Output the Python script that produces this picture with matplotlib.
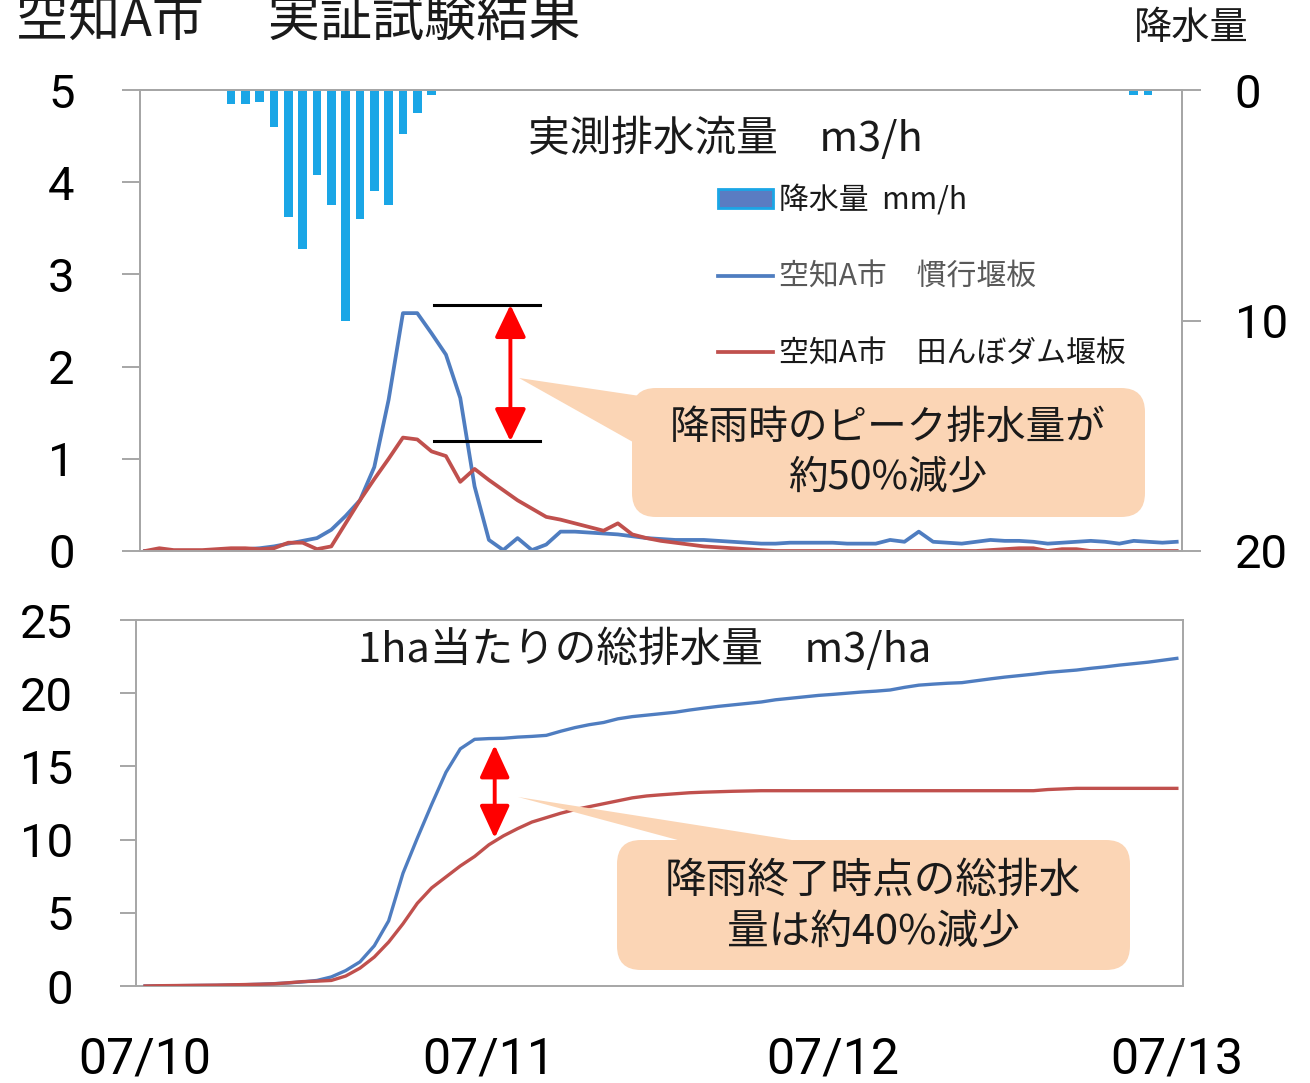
import matplotlib
matplotlib.use("Agg")
import matplotlib.pyplot as plt
import numpy as np
from matplotlib.patches import FancyBboxPatch, Polygon, Patch
from matplotlib.lines import Line2D
from matplotlib.transforms import Affine2D

# ---------------- data (hourly, 07/10 00:00 -> 07/13 00:00) ----------------
hours = np.arange(73)

flow_conventional = [0.00, 0.00, 0.00, 0.00, 0.00, 0.00, 0.01, 0.02, 0.03, 0.05,
                     0.08, 0.11, 0.14, 0.23, 0.38, 0.55, 0.91, 1.64, 2.58, 2.58,
                     2.36, 2.13, 1.66, 0.70, 0.12, 0.01, 0.14, 0.01, 0.07, 0.21,
                     0.21, 0.20, 0.19, 0.18, 0.16, 0.14, 0.13, 0.12, 0.12, 0.12,
                     0.11, 0.10, 0.09, 0.08, 0.08, 0.09, 0.09, 0.09, 0.09, 0.08,
                     0.08, 0.08, 0.12, 0.10, 0.21, 0.10, 0.09, 0.08, 0.10, 0.12,
                     0.11, 0.11, 0.10, 0.08, 0.09, 0.10, 0.11, 0.10, 0.08, 0.11,
                     0.10, 0.09, 0.10]

flow_paddy_dam = [0.00, 0.03, 0.01, 0.01, 0.01, 0.02, 0.03, 0.03, 0.02, 0.03,
                  0.09, 0.09, 0.02, 0.05, 0.30, 0.55, 0.78, 1.00, 1.23, 1.21,
                  1.08, 1.03, 0.75, 0.89, 0.77, 0.66, 0.55, 0.46, 0.37, 0.34,
                  0.30, 0.26, 0.22, 0.30, 0.18, 0.14, 0.11, 0.09, 0.07, 0.05,
                  0.04, 0.03, 0.02, 0.01, 0.00, 0.00, 0.00, 0.00, 0.00, 0.00,
                  0.00, 0.00, 0.00, 0.00, 0.00, 0.00, 0.00, 0.00, 0.00, 0.01,
                  0.02, 0.03, 0.03, 0.00, 0.02, 0.02, 0.00, 0.00, 0.00, 0.00,
                  0.00, 0.00, 0.00]

cum_conventional = [0.00, 0.01, 0.02, 0.03, 0.04, 0.05, 0.07, 0.09, 0.12, 0.16,
                    0.21, 0.28, 0.38, 0.62, 1.05, 1.65, 2.75, 4.45, 7.70, 10.10,
                    12.40, 14.60, 16.20, 16.85, 16.90, 16.92, 17.00, 17.05, 17.12, 17.40,
                    17.65, 17.85, 18.00, 18.25, 18.40, 18.50, 18.60, 18.70, 18.85, 18.98,
                    19.10, 19.20, 19.30, 19.40, 19.55, 19.65, 19.75, 19.85, 19.92, 20.00,
                    20.08, 20.14, 20.22, 20.40, 20.55, 20.62, 20.68, 20.72, 20.85, 20.98,
                    21.10, 21.20, 21.30, 21.42, 21.50, 21.58, 21.70, 21.80, 21.92, 22.02,
                    22.12, 22.25, 22.38]

cum_paddy_dam = [0.00, 0.02, 0.03, 0.04, 0.05, 0.06, 0.08, 0.10, 0.12, 0.15,
                 0.22, 0.30, 0.33, 0.38, 0.68, 1.22, 1.98, 3.00, 4.25, 5.65,
                 6.70, 7.45, 8.20, 8.85, 9.65, 10.25, 10.75, 11.20, 11.50, 11.80,
                 12.05, 12.25, 12.45, 12.65, 12.85, 12.98, 13.06, 13.13, 13.20, 13.24,
                 13.27, 13.30, 13.32, 13.34, 13.34, 13.34, 13.34, 13.34, 13.34, 13.34,
                 13.34, 13.34, 13.34, 13.34, 13.34, 13.34, 13.34, 13.34, 13.34, 13.34,
                 13.34, 13.34, 13.34, 13.42, 13.46, 13.50, 13.50, 13.50, 13.50, 13.50,
                 13.50, 13.50, 13.50]

rain_hours = [6, 7, 8, 9, 10, 11, 12, 13, 14, 15, 16, 17, 18, 19, 20, 69, 70]
rain_mm = [0.6, 0.6, 0.5, 1.6, 5.5, 6.9, 3.7, 5.0, 10.0, 5.6, 4.4, 5.0, 1.9, 1.0, 0.2,
           0.2, 0.2]

date_ticks = [0, 24, 48, 72]
date_labels = ["07/10", "07/11", "07/12", "07/13"]

label_rain = "降水量  mm/h"
label_conv = "空知A市　慣行堰板"
label_dam = "空知A市　田んぼダム堰板"

# ---------------- style ----------------
JP = ["Noto Sans CJK JP", "DejaVu Sans"]
NUM = ["Roboto", "DejaVu Sans"]
plt.rcParams["font.family"] = JP

BLUE = "#4F7DC0"
RED = "#C0504D"
RAIN = "#1AA6E6"
GRAY = "#A6A6A6"
PEACH = "#FBD5B5"
TXT = "#1A1A1A"

W, H = 1310, 1083
DPI = 100
fig = plt.figure(figsize=(W / DPI, H / DPI), dpi=DPI)
fig.patch.set_facecolor("white")

# pixel coordinates measured from the top-left corner
PX = Affine2D().scale(1, -1).translate(0, H)


def rect(l, t, r, b):
    return [l / W, 1 - b / H, (r - l) / W, (b - t) / H]


def style_spines(ax):
    for s in ax.spines.values():
        s.set_color(GRAY)
        s.set_linewidth(1.4)


# ---------------- upper panel: discharge rate + rainfall ----------------
ax1 = fig.add_axes(rect(140, 90, 1182, 551))
ax1.plot(hours, flow_conventional, color=BLUE, lw=2.7, solid_joinstyle="round", zorder=3)
ax1.plot(hours, flow_paddy_dam, color=RED, lw=2.7, solid_joinstyle="round", zorder=4)
ax1.set_xlim(-0.35, 72.37)
ax1.set_ylim(0, 5)
ax1.set_yticks([0, 1, 2, 3, 4, 5])
ax1.tick_params(axis="y", direction="out", length=13, width=1.4, color=GRAY,
                pad=34, labelsize=34)
ax1.tick_params(axis="x", length=0, labelbottom=False)
for t in ax1.get_yticklabels():
    t.set_fontfamily(NUM)
style_spines(ax1)

ax2 = ax1.twinx()
ax2.bar(rain_hours, rain_mm, width=0.6, color=RAIN, zorder=2)
ax2.set_ylim(20, 0)
ax2.set_yticks([0, 10, 20])
ax2.tick_params(axis="y", direction="out", length=14, width=1.4, color=GRAY,
                pad=24, labelsize=34)
for t in ax2.get_yticklabels():
    t.set_fontfamily(NUM)
style_spines(ax2)

# legend
handles = [Patch(facecolor="#5A7CC2", edgecolor=RAIN, linewidth=2),
           Line2D([], [], color=BLUE, lw=2.7),
           Line2D([], [], color=RED, lw=2.7)]
leg = ax2.legend(handles, [label_rain, label_conv, label_dam],
                 loc="upper left", bbox_to_anchor=(718 / W, 1 - 185 / H),
                 bbox_transform=fig.transFigure, frameon=False, fontsize=21.5,
                 handlelength=1.85, handleheight=0.6, handletextpad=0.2,
                 labelspacing=1.53, borderpad=0, borderaxespad=0)
for t, c in zip(leg.get_texts(), [TXT, "#595959", TXT]):
    t.set_color(c)

# peak marker lines and arrow
ax1.plot([20.2, 27.6], [2.67, 2.67], color="black", lw=2.2, zorder=5)
ax1.plot([20.2, 27.6], [1.19, 1.19], color="black", lw=2.2, zorder=5)
ax1.annotate("", xy=(25.5, 2.67), xytext=(25.5, 1.19),
             arrowprops=dict(arrowstyle="<|-|>,head_length=1.0,head_width=0.48",
                             mutation_scale=20, color="#FF0000", lw=2.8,
                             shrinkA=0, shrinkB=0), zorder=6)

# ---------------- lower panel: cumulative discharge ----------------
ax3 = fig.add_axes(rect(136, 620, 1183, 986))
ax3.plot(hours, cum_conventional, color=BLUE, lw=2.4, zorder=3)
ax3.plot(hours, cum_paddy_dam, color=RED, lw=2.4, zorder=4)
ax3.set_xlim(-0.63, 72.43)
ax3.set_ylim(0, 25)
ax3.set_yticks([0, 5, 10, 15, 20, 25])
ax3.set_xticks(date_ticks)
ax3.set_xticklabels(date_labels)
ax3.tick_params(axis="y", direction="out", length=11.5, width=1.4, color=GRAY,
                pad=34, labelsize=34)
ax3.tick_params(axis="x", length=0, pad=36, labelsize=36)
for t in ax3.get_yticklabels() + ax3.get_xticklabels():
    t.set_fontfamily(NUM)
style_spines(ax3)

ax3.annotate("", xy=(24.4, 16.46), xytext=(24.4, 10.1),
             arrowprops=dict(arrowstyle="<|-|>,head_length=1.0,head_width=0.46",
                             mutation_scale=20, color="#FF0000", lw=2.8,
                             shrinkA=0, shrinkB=0), zorder=6)


# ---------------- callouts ----------------
def callout(box, wedge, text, center, size):
    l, t, r, b = box  # top-left based pixels, t < b
    fig.patches.append(Polygon(wedge, closed=True, transform=PX, facecolor=PEACH,
                               edgecolor="none", zorder=8))
    fig.patches.append(FancyBboxPatch((l, t), r - l, b - t,
                                      boxstyle="round,pad=0,rounding_size=24",
                                      transform=PX, facecolor=PEACH,
                                      edgecolor="none", zorder=8))
    fig.text(center[0], center[1], text, transform=PX, ha="center", va="center",
             fontsize=size, color=TXT, linespacing=1.3, zorder=9)


callout((632, 388, 1145, 517), [(519, 378), (640, 396), (640, 446)],
        "降雨時のピーク排水量が\n約50%減少", (888, 453), 28.5)
callout((617, 840, 1130, 970), [(518, 797), (700, 846), (830, 846)],
        "降雨終了時点の総排水\n量は約40%減少", (873, 907), 30)

# ---------------- titles ----------------
fig.text(16, 36, "空知A市　 実証試験結果", transform=PX, fontsize=37.5, va="baseline",
         ha="left", color=TXT)
fig.text(1134, 39, "降水量", transform=PX, fontsize=27.5, va="baseline", ha="left",
         color=TXT)
fig.text(528, 151, "実測排水流量　m3/h", transform=PX, fontsize=30, va="baseline",
         ha="left", color=TXT, zorder=10)
fig.text(358, 662, "1ha当たりの総排水量　m3/ha", transform=PX, fontsize=30,
         va="baseline", ha="left", color=TXT, zorder=10)

fig.savefig("out.png", dpi=DPI, facecolor="white")
